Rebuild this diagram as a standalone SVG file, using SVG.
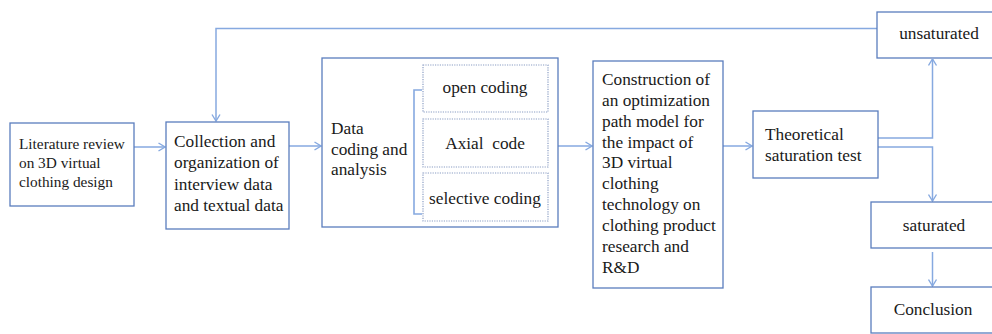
<svg xmlns="http://www.w3.org/2000/svg" width="992" height="334" viewBox="0 0 992 334">
  <style>
    .box { fill: #ffffff; stroke: #5a7dbd; stroke-width: 1.3; }
    .sub { fill: #ffffff; stroke: #8a9dc4; stroke-width: 1.2; stroke-dasharray: 1.2 1.2; }
    text { font-family: 'Liberation Serif', 'Times New Roman', Times, 'DejaVu Serif', serif; font-size: 17.3px; fill: #1a1a1a; }
    .sm { font-size: 15.3px; }
    .mid { text-anchor: middle; }
    .wire { fill: none; stroke: #86a9e0; stroke-width: 1.5; }
    .brace { fill: none; stroke: #86a9e0; stroke-width: 1.6; }
  </style>
  <defs>
    <marker id="chev" viewBox="0 0 10 10" refX="9.5" refY="5" markerWidth="10" markerHeight="10" markerUnits="userSpaceOnUse" orient="auto">
      <path d="M3,1 L9.5,5 L3,9" fill="none" stroke="#86a9e0" stroke-width="1.4"/>
    </marker>
  </defs>

  <g id="connectors">
    <path class="wire" d="M134,147 H165" marker-end="url(#chev)"/>
    <path class="wire" d="M877,28.5 H216 V121" marker-end="url(#chev)"/>
    <path class="wire" d="M289,146 H321" marker-end="url(#chev)"/>
    <path class="wire" d="M558,146 H592" marker-end="url(#chev)"/>
    <path class="wire" d="M723,146 H752" marker-end="url(#chev)"/>
    <path class="wire" d="M878,138 H932.5 V59" marker-end="url(#chev)"/>
    <path class="wire" d="M878,147 H932.5 V201" marker-end="url(#chev)"/>
    <path class="wire" d="M932.5,252 V286" marker-end="url(#chev)"/>
  </g>

  <g id="literature">
    <rect class="box" x="10" y="123" width="124" height="83"/>
    <text class="sm" x="19" y="149">Literature review</text>
    <text class="sm" x="19" y="168">on 3D virtual</text>
    <text class="sm" x="19" y="187">clothing design</text>
  </g>

  <g id="collection">
    <rect class="box" x="166" y="122" width="123" height="107"/>
    <text x="174" y="147">Collection and</text>
    <text x="174" y="168">organization of</text>
    <text x="174" y="190">interview data</text>
    <text x="174" y="211">and textual data</text>
  </g>

  <g id="coding">
    <rect class="box" x="322" y="58" width="236" height="169"/>
    <text x="331" y="134">Data</text>
    <text x="331" y="155">coding and</text>
    <text x="331" y="175">analysis</text>
    <path class="brace" d="M422,90 H414 V214 H422"/>
    <g id="open-coding">
      <rect class="sub" x="423" y="65" width="125" height="47"/>
      <text class="mid" x="485" y="93">open coding</text>
    </g>
    <g id="axial-code">
      <rect class="sub" x="423" y="119" width="125" height="48"/>
      <text class="mid" x="485" y="149" xml:space="preserve">Axial  code</text>
    </g>
    <g id="selective-coding">
      <rect class="sub" x="423" y="173" width="125" height="48"/>
      <text class="mid" x="485" y="204">selective coding</text>
    </g>
  </g>

  <g id="model">
    <rect class="box" x="593" y="61" width="130" height="227"/>
    <text x="602" y="85">Construction of</text>
    <text x="602" y="106">an optimization</text>
    <text x="602" y="127">path model for</text>
    <text x="602" y="148">the impact of</text>
    <text x="602" y="168">3D virtual</text>
    <text x="602" y="189">clothing</text>
    <text x="602" y="210">technology on</text>
    <text x="602" y="231">clothing product</text>
    <text x="602" y="252">research and</text>
    <text x="602" y="273">R&amp;D</text>
  </g>

  <g id="saturation-test">
    <rect class="box" x="753" y="111" width="125" height="67"/>
    <text x="765" y="140">Theoretical</text>
    <text x="765" y="161">saturation test</text>
  </g>

  <g id="unsaturated">
    <rect class="box" x="877" y="12" width="125" height="46"/>
    <text class="mid" x="939" y="39">unsaturated</text>
  </g>

  <g id="saturated">
    <rect class="box" x="871" y="202" width="131" height="46"/>
    <text class="mid" x="934" y="231">saturated</text>
  </g>

  <g id="conclusion">
    <rect class="box" x="871" y="287" width="131" height="46"/>
    <text class="mid" x="933" y="315">Conclusion</text>
  </g>
</svg>
